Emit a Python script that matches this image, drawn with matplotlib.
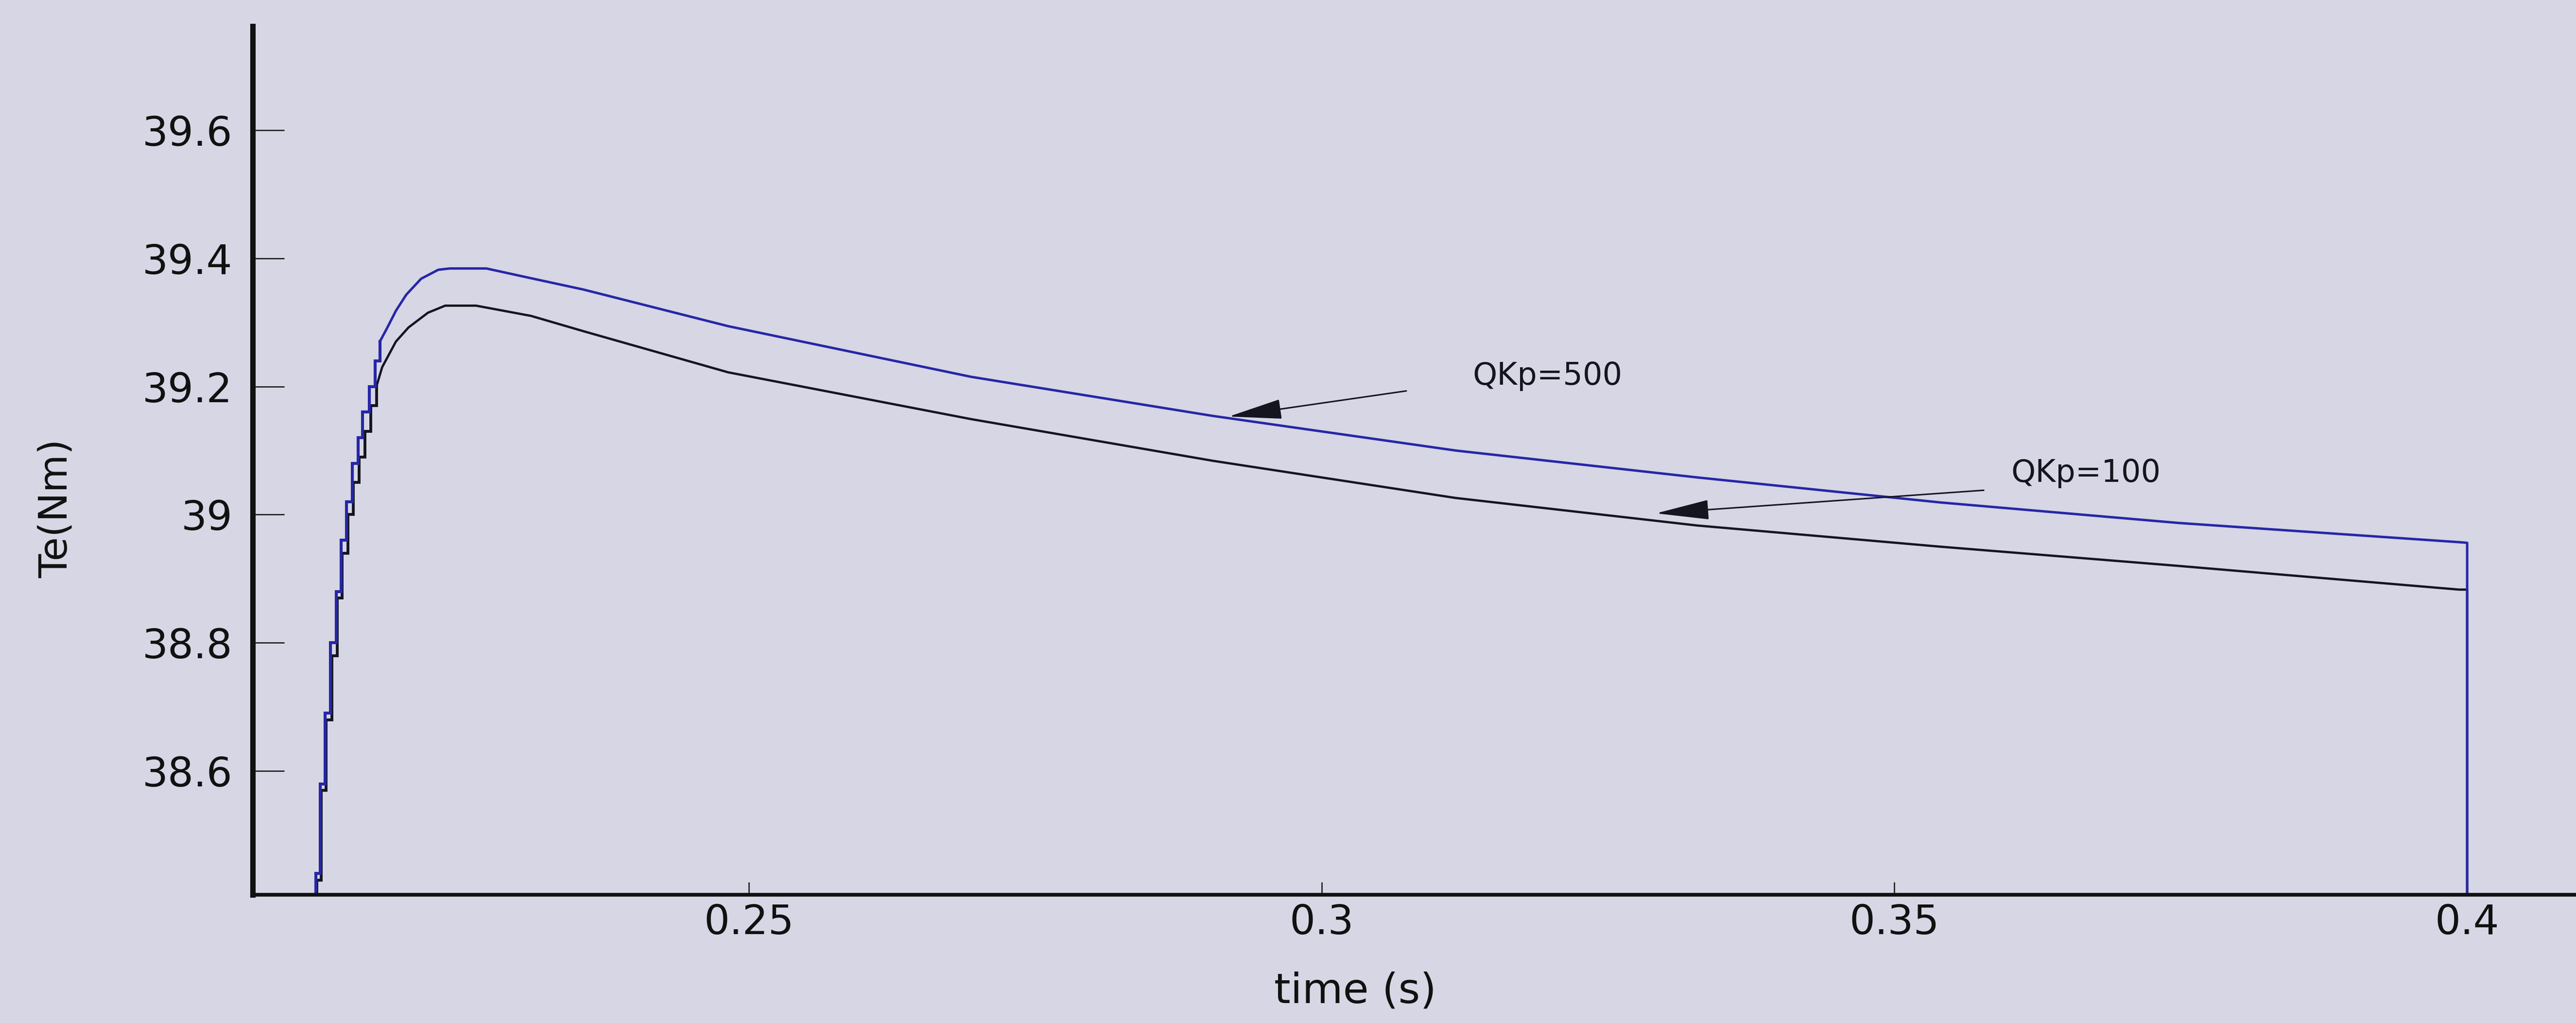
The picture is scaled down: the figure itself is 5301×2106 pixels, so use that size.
import matplotlib
matplotlib.use("Agg")
import matplotlib.pyplot as plt

# --- torque response, QKp = 500 (blue) ---
# sampled start-up (held between samples)
rise_t_500 = [0.2119, 0.2122, 0.2126, 0.2130, 0.2135, 0.2140, 0.2144, 0.2149,
              0.2154, 0.2159, 0.2163, 0.2169, 0.2174, 0.2178]
rise_te_500 = [38.40, 38.44, 38.58, 38.69, 38.80, 38.88, 38.96, 39.02,
               39.08, 39.12, 39.16, 39.20, 39.24, 39.27]
# peak and slow decay
tail_t_500 = [0.2178, 0.2184, 0.2192, 0.2201, 0.2214, 0.2229, 0.2239, 0.2271,
              0.2312, 0.2356, 0.2482, 0.2694, 0.2905, 0.3117, 0.3328, 0.3540,
              0.3748, 0.3993, 0.4000, 0.4000]
tail_te_500 = [39.270, 39.290, 39.318, 39.343, 39.368, 39.382, 39.384, 39.384,
               39.368, 39.351, 39.294, 39.215, 39.154, 39.100, 39.058, 39.019,
               38.987, 38.957, 38.956, 38.40]

# --- torque response, QKp = 100 (black) ---
rise_t_100 = [0.2120, 0.2123, 0.2127, 0.2131, 0.2136, 0.2141, 0.2145, 0.2150,
              0.2155, 0.2160, 0.2165, 0.2170, 0.2175]
rise_te_100 = [38.40, 38.43, 38.57, 38.68, 38.78, 38.87, 38.94, 39.00,
               39.05, 39.09, 39.13, 39.17, 39.20]
tail_t_100 = [0.2175, 0.2180, 0.2186, 0.2192, 0.2203, 0.2220, 0.2235, 0.2262,
              0.2310, 0.2356, 0.2482, 0.2694, 0.2905, 0.3117, 0.3328, 0.3540,
              0.3748, 0.3993, 0.4000, 0.4000]
tail_te_100 = [39.200, 39.230, 39.250, 39.270, 39.292, 39.315, 39.326, 39.326,
               39.310, 39.286, 39.222, 39.149, 39.084, 39.026, 38.983, 38.950,
               38.920, 38.883, 38.883, 38.40]

x_ticks = [0.25, 0.3, 0.35, 0.4]
x_tick_labels = ["0.25", "0.3", "0.35", "0.4"]
y_ticks = [38.6, 38.8, 39.0, 39.2, 39.4, 39.6]
y_tick_labels = ["38.6", "38.8", "39", "39.2", "39.4", "39.6"]

# annotation labels: (text, text anchor, arrow tail, arrow tip)
labels = [
    ("QKp=500", (0.3132, 39.216), (0.3074, 39.193), (0.2919, 39.153)),
    ("QKp=100", (0.3602, 39.065), (0.3578, 39.038), (0.3292, 39.002)),
]

BG = "#d6d6e4"
BLUE = "#2626a8"
BLACK = "#15151f"

plt.rcParams["font.family"] = ["DejaVu Sans"]

fig = plt.figure(figsize=(53.01, 21.06), dpi=100, facecolor=BG)
ax = fig.add_axes([0.0981, 0.1254, 0.9019, 0.8490])
ax.set_facecolor(BG)

# black curve first so the blue one sits on top where they overlap
ax.plot(rise_t_100, rise_te_100, color=BLACK, lw=4.2, drawstyle="steps-post",
        solid_joinstyle="miter")
ax.plot(tail_t_100, tail_te_100, color=BLACK, lw=3.4, solid_joinstyle="round")
ax.plot(rise_t_500, rise_te_500, color=BLUE, lw=4.4, drawstyle="steps-post",
        solid_joinstyle="miter")
ax.plot(tail_t_500, tail_te_500, color=BLUE, lw=3.6, solid_joinstyle="round")

for text, txt_pos, tail, tip in labels:
    ax.annotate("", xy=tip, xytext=tail,
                arrowprops=dict(arrowstyle="-|>,head_length=7,head_width=1.3",
                                color=BLACK, lw=2.2, shrinkA=0, shrinkB=0))
    ax.text(txt_pos[0], txt_pos[1], text, fontsize=46, color=BLACK,
            ha="left", va="center")

ax.set_xlim(0.2067, 0.4095)
ax.set_ylim(38.407, 39.762)

ax.set_xticks(x_ticks)
ax.set_xticklabels(x_tick_labels)
ax.set_yticks(y_ticks)
ax.set_yticklabels(y_tick_labels)

ax.spines["top"].set_visible(False)
ax.spines["right"].set_visible(False)
ax.spines["left"].set_linewidth(8)
ax.spines["bottom"].set_linewidth(5.5)
ax.spines["left"].set_color("#111111")
ax.spines["bottom"].set_color("#111111")

ax.tick_params(axis="y", direction="in", length=47, width=1.8, pad=30,
               labelsize=60, colors="#111111")
ax.tick_params(axis="x", direction="in", length=19, width=1.8, pad=12,
               labelsize=60, colors="#111111")

ax.set_xlabel("time (s)", fontsize=62, color="#111111")
ax.xaxis.set_label_coords(0.4746, -0.1247)
ax.xaxis.label.set_va("baseline")

ax.set_ylabel("Te(Nm)", fontsize=58, color="#111111")
ax.yaxis.set_label_coords(-0.080, 0.4446)
ax.yaxis.label.set_va("baseline")

fig.savefig("out.png", dpi=100, facecolor=BG)
